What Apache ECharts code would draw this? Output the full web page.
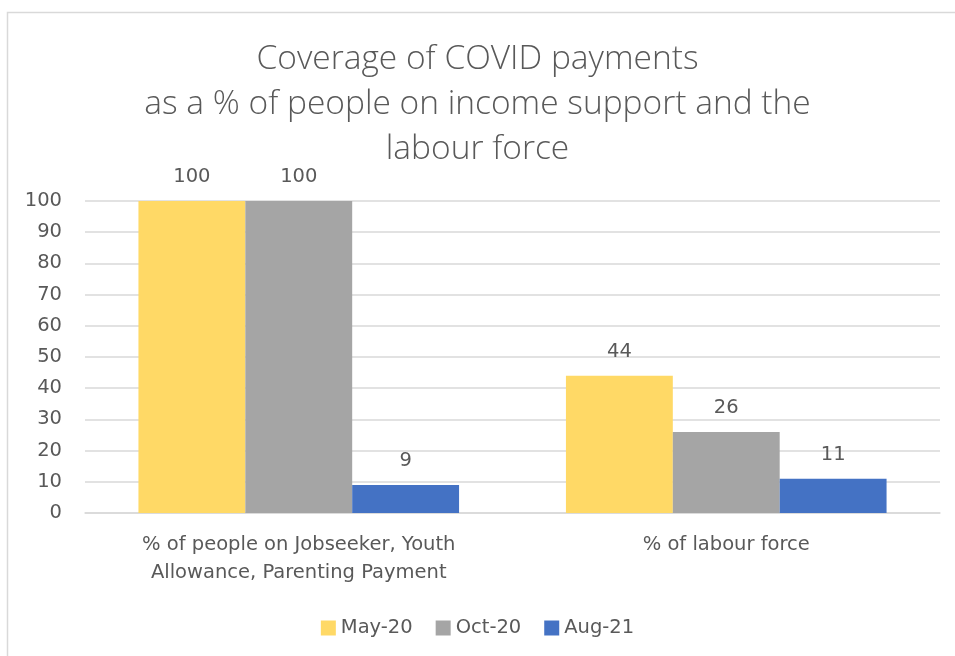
<!DOCTYPE html>
<html><head><meta charset="utf-8">
<script src="https://cdn.jsdelivr.net/npm/echarts@6/dist/echarts.min.js"></script>
<style>html,body{margin:0;padding:0;background:#fff}#c{width:955px;height:656px}</style>
</head><body><div id="c"></div>
<script>
const titleText = 'Coverage of COVID payments\nas a % of people on income support and the\nlabour force';
const categories = ['% of people on Jobseeker, Youth\nAllowance, Parenting Payment', '% of labour force'];
const seriesNames = ['May-20', 'Oct-20', 'Aug-21'];
const may20 = [100, 44];
const oct20 = [100, 26];
const aug21 = [9, 11];
const yTicks = [0, 100, 10];
const colors = ['#FFD966', '#A5A5A5', '#4472C4'];

const TFONT = '"Open Sans", "Noto Sans", sans-serif';
const FONT = '"DejaVu Sans", "Open Sans", sans-serif';
const FS = 19.5;
const TXT = '#595959';
const chart = echarts.init(document.getElementById('c'), null, {renderer: 'canvas'});
const dataSets = [may20, oct20, aug21];
chart.setOption({
  backgroundColor: '#fff',
  animation: false,
  graphic: [{
    type: 'rect', left: 5, top: 10, shape: {width: 960, height: 660},
    style: {fill: 'none', stroke: '#D9D9D9', lineWidth: 1.5}, silent: true, z: -1
  }],
  title: {
    text: titleText, left: 'center', top: 32,
    textStyle: {fontFamily: TFONT, fontSize: 33.5, fontWeight: 300, color: TXT, lineHeight: 45}
  },
  legend: {
    bottom: 13, left: 'center', itemWidth: 15, itemHeight: 15, itemGap: 23,
    icon: 'rect',
    textStyle: {fontFamily: FONT, fontSize: FS, color: TXT},
    data: seriesNames
  },
  grid: {left: 85, right: 15, top: 201, bottom: 143, containLabel: false},
  xAxis: {
    type: 'category', data: categories,
    axisLine: {lineStyle: {color: '#D9D9D9', width: 1.5}},
    axisTick: {show: false},
    axisLabel: {fontFamily: FONT, fontSize: FS, color: TXT, lineHeight: 28, margin: 18}
  },
  yAxis: {
    type: 'value', min: yTicks[0], max: yTicks[1], interval: yTicks[2],
    axisLine: {show: false}, axisTick: {show: false},
    splitLine: {lineStyle: {color: '#D9D9D9', width: 1.5}},
    axisLabel: {fontFamily: FONT, fontSize: FS, color: TXT, margin: 23}
  },
  series: seriesNames.map((n, i) => ({
    name: n, type: 'bar', data: dataSets[i],
    itemStyle: {color: colors[i]},
    barGap: '0%', barCategoryGap: '25%',
    label: {show: true, position: 'top', distance: 14, fontFamily: FONT, fontSize: FS, color: TXT}
  }))
});
</script></body></html>
